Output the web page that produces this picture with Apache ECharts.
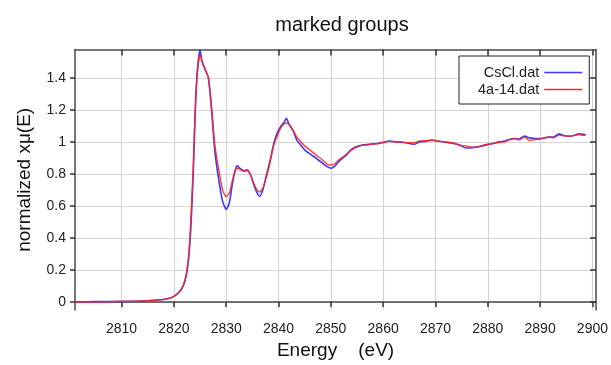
<!DOCTYPE html>
<html>
<head>
<meta charset="utf-8">
<script src="https://cdn.jsdelivr.net/npm/echarts@6/dist/echarts.min.js"></script>
<style>html,body{margin:0;padding:0;background:#fff}#c{width:611px;height:365px}</style>
</head>
<body>
<div id="c"></div>
<script>
// Energy grid (eV)
const energy = [2801.1,2805,2810,2814,2817,2819,2820,2821,2821.8,2822.4,2822.9,2823.3,2823.7,2824.1,2824.5,2825.0,2825.4,2826.0,2826.6,2827.2,2827.8,2828.5,2829.3,2830.0,2830.6,2831.2,2831.7,2832.1,2832.8,2833.4,2834.0,2834.7,2835.4,2836.0,2836.4,2837.0,2837.6,2838.3,2839.1,2839.8,2840.5,2841.0,2841.5,2842.0,2842.8,2843.5,2844.0,2845.0,2846.0,2847.2,2848.3,2849.3,2850.0,2850.8,2851.6,2852.9,2853.8,2855.4,2857.4,2859,2860,2861.2,2862.5,2863.5,2865,2866,2867,2868.5,2869.3,2870.5,2871.6,2873.5,2874.9,2875.8,2876.8,2877.8,2879,2880,2881,2882.2,2883.2,2884.1,2885,2886,2887,2888,2889,2890,2891,2891.7,2892.6,2893.6,2894.5,2895.5,2896.5,2897.4,2898.3,2898.7];
const cscl = [0.0,0.002,0.003,0.006,0.012,0.022,0.035,0.06,0.1,0.17,0.3,0.5,0.8,1.2,1.45,1.575,1.5,1.45,1.4,1.2,0.95,0.78,0.63,0.578,0.62,0.74,0.82,0.85,0.83,0.82,0.825,0.79,0.72,0.675,0.66,0.7,0.78,0.87,0.99,1.06,1.1,1.12,1.147,1.11,1.07,1.01,0.99,0.95,0.925,0.897,0.87,0.845,0.835,0.85,0.88,0.915,0.95,0.975,0.985,0.99,0.997,1.005,1.0,0.998,0.99,0.985,1.0,1.005,1.012,1.005,1.0,0.99,0.975,0.962,0.962,0.968,0.975,0.983,0.99,1.0,1.005,1.015,1.02,1.018,1.036,1.025,1.02,1.02,1.025,1.03,1.03,1.05,1.04,1.035,1.04,1.05,1.048,1.045];
const s4a14 = [0.0,0.0,0.004,0.006,0.012,0.022,0.035,0.062,0.105,0.18,0.32,0.55,0.85,1.22,1.44,1.545,1.5,1.45,1.4,1.22,0.99,0.84,0.7,0.657,0.68,0.76,0.82,0.835,0.825,0.815,0.82,0.79,0.73,0.695,0.687,0.71,0.77,0.86,0.98,1.04,1.09,1.11,1.118,1.11,1.07,1.03,1.01,0.975,0.95,0.917,0.89,0.86,0.855,0.865,0.89,0.92,0.945,0.975,0.983,0.99,0.995,1.003,0.998,1.0,0.994,0.995,1.005,1.008,1.011,1.006,1.0,0.993,0.978,0.975,0.968,0.965,0.978,0.985,0.99,0.998,1.0,1.013,1.022,1.012,1.03,1.008,1.015,1.018,1.027,1.03,1.025,1.042,1.038,1.035,1.04,1.045,1.04,1.042];
const seriesNames = ['CsCl.dat','4a-14.dat'];
const xTicks = [2810,2820,2830,2840,2850,2860,2870,2880,2890,2900];
const yTicks = [0,0.2,0.4,0.6,0.8,1,1.2,1.4];

const FONT = 'Liberation Sans, Arial, sans-serif';
const chart = echarts.init(document.getElementById('c'), null, {renderer:'canvas'});
const xMin = 2801.1, xMax = 2900.7, yMin = -0.051, yMax = 1.577;
const axisLineStyle = {color:'#4a4a4a', width:1.5};
const pairs = arr => energy.map((e,i)=>[e, arr[i]]);
const colors = ['#3a3aff', '#ff2525'];

chart.setOption({
  animation:false,
  title:{text:'marked groups', left:337, top:10, textAlign:'center',
    textStyle:{fontFamily:FONT, fontSize:20, fontWeight:'normal', color:'#111'}},
  legend:{
    left:459, top:56, orient:'vertical', align:'right',
    padding:[9,7,7,19], itemGap:2, itemWidth:38, itemHeight:1.5, icon:'rect',
    borderColor:'#222', borderWidth:1, backgroundColor:'#fff',
    textStyle:{fontFamily:FONT, fontSize:14.5, color:'#222', lineHeight:15},
    data:seriesNames
  },
  grid:{left:75, right:13.5, top:49.5, bottom:51, containLabel:false},
  xAxis:[{
    type:'value', min:xMin, max:xMax,
    name:'Energy    (eV)', nameLocation:'middle', nameGap:29,
    nameTextStyle:{fontFamily:FONT, fontSize:19, color:'#111'},
    axisLine:{show:true, lineStyle:axisLineStyle},
    axisTick:{show:true, inside:false, length:5, customValues:xTicks, lineStyle:{color:'#333', width:1.5}},
    axisLabel:{customValues:xTicks, margin:12, fontFamily:FONT, fontSize:14, color:'#222',
      formatter: v => String(v)},
    splitLine:{show:true, lineStyle:{color:'#d4d4d4', width:1.2}}
  },{
    type:'value', position:'top', min:xMin, max:xMax,
    axisLine:{show:true, onZero:false, lineStyle:axisLineStyle},
    axisTick:{show:true, inside:true, length:6, customValues:xTicks, lineStyle:{color:'#333', width:1.5}},
    axisLabel:{show:false, customValues:xTicks},
    splitLine:{show:false}
  }],
  yAxis:[{
    type:'value', min:yMin, max:yMax,
    name:'normalized xμ(E)', nameLocation:'middle', nameGap:41,
    nameTextStyle:{fontFamily:FONT, fontSize:19, color:'#111'},
    axisLine:{show:true, onZero:false, lineStyle:axisLineStyle},
    axisTick:{show:true, inside:false, length:5, customValues:yTicks, lineStyle:{color:'#333', width:1.5}},
    axisLabel:{customValues:yTicks, margin:9, fontFamily:FONT, fontSize:14, color:'#222'},
    splitLine:{show:true, lineStyle:{color:'#d4d4d4', width:1.2}}
  },{
    type:'value', position:'right', min:yMin, max:yMax,
    axisLine:{show:true, onZero:false, lineStyle:axisLineStyle},
    axisTick:{show:true, inside:true, length:6, customValues:yTicks, lineStyle:{color:'#333', width:1.5}},
    axisLabel:{show:false, customValues:yTicks},
    splitLine:{show:false}
  }],
  series:[{
    name:seriesNames[0], type:'line', xAxisIndex:0, yAxisIndex:0,
    data:pairs(cscl), symbol:'none', smooth:0.2,
    lineStyle:{color:colors[0], width:1.6}, itemStyle:{color:colors[0]}
  },{
    name:seriesNames[1], type:'line', xAxisIndex:0, yAxisIndex:0,
    data:pairs(s4a14), symbol:'none', smooth:0.2,
    lineStyle:{color:colors[1], width:1.4, opacity:0.9}, itemStyle:{color:colors[1]}
  }]
});
</script>
</body>
</html>
